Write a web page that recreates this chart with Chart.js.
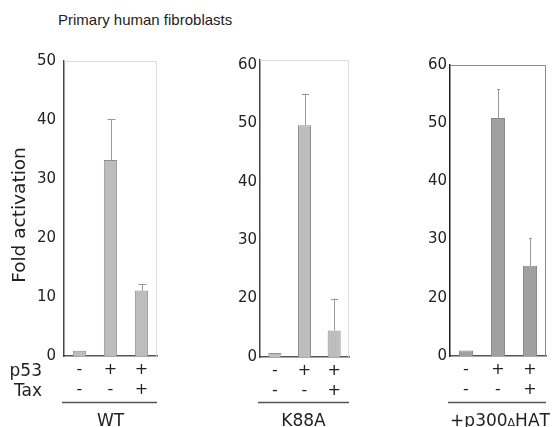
<!DOCTYPE html>
<html>
<head>
<meta charset="utf-8">
<script src="https://cdn.jsdelivr.net/npm/chart.js@4"></script>
<style>
  body { margin: 0; background: #fff; }
  #wrap { position: relative; width: 556px; height: 427px; overflow: hidden; }
  canvas { position: absolute; top: 0; }
  #title { position: absolute; left: 58px; top: 11px; font: 15px "Liberation Sans", Arial, sans-serif; color: #222; line-height: 18px; white-space: nowrap; }
</style>
</head>
<body>
<div id="wrap">
  <div id="title">Primary human fibroblasts</div>
  <canvas id="wt" width="180" height="427" style="left:0px"></canvas>
  <canvas id="k88a" width="180" height="427" style="left:190px"></canvas>
  <canvas id="hat" width="180" height="427" style="left:376px"></canvas>
</div>
<script>
// +/- rows under each panel
const p53Row = ["-", "+", "+"];
const taxRow = ["-", "-", "+"];

// WT panel
const wtValues = [0.9, 33.2, 11.1];
const wtErrors = [null, 40.2, 12.2];
const wtTicks = [0, 10, 20, 30, 40, 50];

// K88A panel (the printed axis has no "10": 0, 20, 30 ... are evenly spaced)
const k88aValues = [1.4, 49.7, 9.1];
const k88aErrors = [null, 55.1, 20.0];
const k88aTicks = [0, 20, 30, 40, 50, 60];

// +p300ΔHAT panel
const hatValues = [1.9, 50.9, 25.5];
const hatErrors = [null, 55.9, 30.3];
const hatTicks = [0, 20, 30, 40, 50, 60];

const FONT = "DejaVu Sans";

// value -> position on an evenly spaced axis built from the printed tick labels
function makeAxisPos(ticks) {
  return v => {
    for (let i = 0; i < ticks.length - 1; i++) {
      if (v <= ticks[i + 1]) return (i + (v - ticks[i]) / (ticks[i + 1] - ticks[i])) * 10;
    }
    return (ticks.length - 1) * 10;
  };
}

const extras = {
  id: "extras",
  beforeDatasetsDraw(chart, args, o) {
    const { ctx, chartArea: a } = chart;
    ctx.save();
    ctx.strokeStyle = o.frame;
    ctx.lineWidth = 1;
    ctx.beginPath();
    ctx.moveTo(a.left, a.top + 0.5);
    ctx.lineTo(a.right - 0.5, a.top + 0.5);
    ctx.lineTo(a.right - 0.5, a.bottom);
    ctx.stroke();
    ctx.restore();
  },
  afterDatasetsDraw(chart, args, o) {
    const { ctx } = chart;
    const y = chart.scales.y;
    const bars = chart.getDatasetMeta(0).data;
    ctx.save();
    ctx.strokeStyle = "#999";
    ctx.lineWidth = 1;
    o.errors.forEach((e, i) => {
      if (e == null) return;
      const x = Math.round(bars[i].x) + 0.5;
      const yTop = y.getPixelForValue(o.axisPos(e));
      ctx.beginPath();
      ctx.moveTo(x, bars[i].y);
      ctx.lineTo(x, yTop);
      ctx.moveTo(x - o.cap, Math.round(yTop) + 0.5);
      ctx.lineTo(x + o.cap, Math.round(yTop) + 0.5);
      ctx.stroke();
    });
    ctx.restore();
  },
  afterDraw(chart, args, o) {
    const { ctx, chartArea: a } = chart;
    ctx.save();
    // group underline
    ctx.strokeStyle = "#555";
    ctx.lineWidth = 1.5;
    ctx.beginPath();
    ctx.moveTo(a.left - 2, 402.5);
    ctx.lineTo(a.right, 402.5);
    ctx.stroke();
    // group name, with a small delta
    ctx.fillStyle = "#222";
    ctx.textBaseline = "alphabetic";
    ctx.textAlign = "left";
    const parts = o.group.split("").map(ch => ({ ch, size: ch === "Δ" ? 11 : 17 }));
    let w = 0;
    parts.forEach(p => { ctx.font = `${p.size}px "${FONT}"`; p.w = ctx.measureText(p.ch).width; w += p.w; });
    let x = (a.left + a.right) / 2 - w / 2 + o.groupShift;
    parts.forEach(p => { ctx.font = `${p.size}px "${FONT}"`; ctx.fillText(p.ch, x, 426); x += p.w; });
    if (o.rowNames) {
      ctx.font = `17px "${FONT}"`;
      ctx.textAlign = "right";
      ctx.fillText("p53", 42, 376);
      ctx.fillText("Tax", 42, 396);
      ctx.save();
      ctx.translate(20, 215);
      ctx.rotate(-Math.PI / 2);
      ctx.textAlign = "center";
      ctx.textBaseline = "middle";
      ctx.font = `18.5px "${FONT}"`;
      ctx.fillText("Fold activation", 0, 0);
      ctx.restore();
    }
    ctx.restore();
  }
};

function drawPanel(id, p) {
  const axisPos = makeAxisPos(p.ticks);
  new Chart(document.getElementById(id), {
    type: "bar",
    data: {
      labels: p53Row.map((s, i) => [s, taxRow[i]]),
      datasets: [{
        data: p.values.map(axisPos),
        backgroundColor: p.fill,
        borderColor: p.edge,
        borderWidth: 1,
        barPercentage: p.barPct,
        categoryPercentage: 1
      }]
    },
    options: {
      responsive: false,
      animation: false,
      devicePixelRatio: 1,
      layout: { padding: { left: 0, right: p.padRight, top: p.top, bottom: 0 } },
      plugins: {
        legend: { display: false },
        tooltip: { enabled: false },
        extras: { frame: p.frame, errors: p.errors, axisPos, cap: p.cap, group: p.group, groupShift: p.groupShift, rowNames: p.rowNames }
      },
      scales: {
        x: {
          grid: { display: false, drawTicks: false },
          border: { color: "#555", width: 1.5 },
          ticks: { color: "#222", padding: 4, maxRotation: 0, autoSkip: false, font: { family: FONT, size: 16, lineHeight: "20px" } },
          afterFit: s => { s.height = p.xHeight; }
        },
        y: {
          min: 0,
          max: p.max,
          grid: { display: false, drawTicks: false },
          border: { color: p.axis, width: 1.5 },
          ticks: {
            stepSize: 10,
            includeBounds: false,
            padding: p.tickPad,
            color: "#222",
            font: { family: FONT, size: 15 },
            callback: v => p.ticks[Math.round(v / 10)]
          },
          afterFit: s => { s.width = p.yWidth; }
        }
      }
    },
    plugins: [extras]
  });
}

drawPanel("wt", {
  values: wtValues, errors: wtErrors, ticks: wtTicks, group: "WT", groupShift: 0, rowNames: true,
  fill: "#bdbdbd", edge: "#8e8e8e", frame: "#dcdcdc", axis: "#444", cap: 4, barPct: 0.43,
  yWidth: 64, padRight: 23, top: 61, xHeight: 71, max: 50, tickPad: 8
});
drawPanel("k88a", {
  values: k88aValues, errors: k88aErrors, ticks: k88aTicks, group: "K88A", groupShift: -1, rowNames: false,
  fill: "#bdbdbd", edge: "#8e8e8e", frame: "#dcdcdc", axis: "#444", cap: 3.5, barPct: 0.44,
  yWidth: 70, padRight: 21, top: 60, xHeight: 70, max: 50.86, tickPad: 3
});
drawPanel("hat", {
  values: hatValues, errors: hatErrors, ticks: hatTicks, group: "+p300ΔHAT", groupShift: 2, rowNames: false,
  fill: "#a0a0a0", edge: "#868686", frame: "#8a8a8a", axis: "#222", cap: 1.5, barPct: 0.44,
  yWidth: 74, padRight: 10, top: 65, xHeight: 71, max: 50, tickPad: 3
});
</script>
</body>
</html>
